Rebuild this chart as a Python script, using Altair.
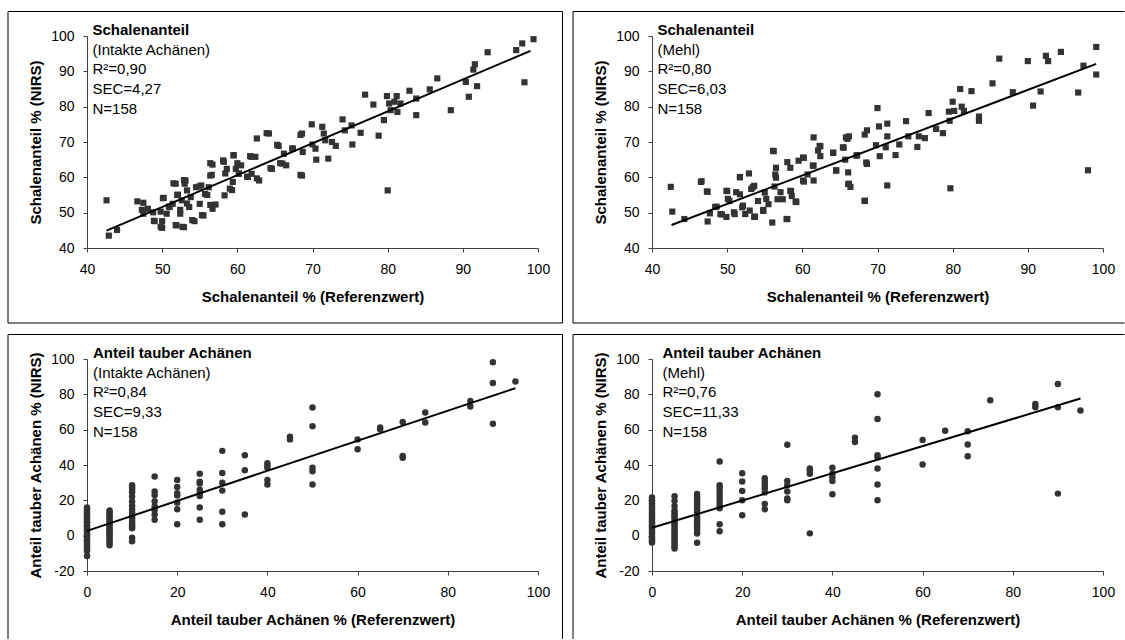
import altair as alt
import pandas as pd

FONT = "Liberation Sans"
PT_COLOR = "#333333"
AX_COLOR = "#404040"

# ---------------- data: Schalenanteil, intakte Achänen (x = Referenz, y = NIRS)
tl_points = [
    (42.6, 53.5), (42.9, 43.5), (44.0, 45.1), (46.7, 53.2), (47.5, 52.8), (47.5, 49.7),
    (48.1, 51.1), (48.8, 50.1), (49.0, 47.6), (50.0, 45.7), (50.2, 54.2), (50.0, 47.6),
    (50.6, 49.7), (51.0, 51.6), (51.4, 52.5), (51.8, 58.2), (51.9, 46.4), (52.1, 55.1),
    (52.4, 49.7), (52.6, 53.5), (52.9, 45.9), (53.0, 58.2), (53.1, 59.1), (53.3, 56.3),
    (53.6, 51.6), (53.8, 54.4), (54.3, 47.6), (54.5, 57.2), (55.0, 52.5), (55.2, 57.7),
    (55.5, 49.2), (55.7, 55.3), (56.2, 57.2), (56.4, 60.5), (56.7, 63.6), (56.7, 51.1),
    (57.1, 52.3), (58.1, 64.8), (58.3, 54.9), (58.6, 62.4), (59.0, 56.8), (59.4, 58.7),
    (59.5, 66.2), (59.8, 62.4), (60.2, 61.0), (60.5, 63.4), (61.4, 60.1), (61.9, 65.8),
    (62.4, 65.8), (62.6, 71.0), (61.9, 61.0), (62.9, 59.1), (64.2, 72.4), (64.6, 62.4),
    (65.5, 68.9), (66.0, 63.9), (66.2, 66.7), (66.5, 63.4), (67.4, 68.1), (68.6, 72.4),
    (68.6, 60.5), (68.7, 67.2), (69.9, 75.0), (70.0, 69.3), (70.4, 68.1), (70.5, 65.0),
    (71.3, 74.3), (71.5, 72.4), (71.7, 70.5), (72.1, 65.3), (72.6, 70.0), (73.1, 68.9),
    (74.0, 76.4), (74.3, 73.3), (75.2, 74.7), (75.3, 69.3), (76.4, 72.6), (77.0, 83.4),
    (78.1, 80.6), (78.8, 71.8), (79.5, 76.2), (79.9, 83.0), (80.0, 56.3), (80.2, 80.9),
    (80.4, 79.0), (80.9, 81.4), (81.2, 83.0), (81.3, 78.5), (81.7, 80.9), (82.9, 84.5),
    (83.8, 82.3), (83.8, 77.6), (85.6, 84.9), (86.6, 88.0), (88.4, 79.0), (90.4, 87.0),
    (90.8, 82.8), (91.4, 90.5), (91.6, 92.0), (91.9, 85.8), (93.3, 95.4), (97.1, 96.0),
    (97.9, 97.9), (98.2, 86.9), (99.4, 99.1),
    (47.3, 50.8), (48.9, 47.7), (49.8, 46.0), (50.1, 54.1), (49.8, 50.3), (50.9, 51.7),
    (51.5, 58.3), (51.8, 46.5), (52.7, 46.0), (52.0, 55.0), (52.9, 59.2), (53.3, 52.6),
    (52.4, 50.8), (54.0, 47.9), (54.9, 57.4), (55.3, 49.3), (56.0, 55.0), (56.4, 64.0),
    (56.6, 60.7), (56.4, 52.2), (58.2, 64.4), (58.4, 61.1), (59.3, 56.4), (59.5, 66.3),
    (60.0, 64.0), (60.2, 61.1), (61.3, 60.2), (61.7, 66.0), (62.6, 59.7), (63.9, 72.5),
    (64.4, 62.6), (65.3, 69.2), (65.7, 64.0), (67.3, 68.2), (68.4, 72.0), (68.4, 60.7),
]
tl_line_x = [42.6, 99.0]
tl_line_y = [44.9, 95.8]

# ---------------- data: Schalenanteil, Mehl
tr_points = [
    (42.5, 57.3), (42.7, 50.3), (44.3, 48.2), (46.5, 58.7), (47.4, 55.9), (47.4, 47.5),
    (47.7, 49.8), (48.4, 51.6), (49.1, 49.6), (50.0, 56.1), (49.9, 48.8), (50.3, 53.3),
    (51.0, 49.6), (51.7, 60.1), (51.7, 55.2), (52.0, 51.5), (52.4, 49.6), (52.9, 61.1),
    (53.2, 56.7), (53.6, 48.8), (53.6, 57.6), (54.1, 53.3), (54.8, 50.5), (55.0, 55.7),
    (55.5, 52.4), (56.0, 47.2), (56.2, 67.4), (56.5, 62.7), (56.5, 59.9), (56.7, 53.8),
    (57.4, 53.8), (57.9, 48.2), (58.0, 64.3), (58.4, 62.7), (58.5, 56.1), (58.6, 54.7),
    (59.2, 53.0), (59.5, 64.7), (60.2, 58.8), (60.2, 65.5), (60.7, 60.8), (61.5, 71.3),
    (61.5, 63.3), (61.5, 59.1), (62.1, 67.6), (62.4, 68.8), (62.4, 66.0), (64.1, 66.9),
    (64.5, 61.9), (65.5, 68.4), (65.7, 65.0), (66.0, 70.9), (66.2, 71.6), (66.1, 61.4),
    (66.2, 58.2), (66.4, 57.3), (67.3, 66.3), (68.3, 72.1), (68.6, 73.3), (68.6, 63.8),
    (68.3, 53.3), (70.0, 79.6), (69.8, 69.1), (70.2, 74.4), (70.3, 66.0), (71.1, 68.5),
    (71.3, 75.2), (71.3, 71.6), (71.3, 57.7), (72.4, 66.3), (72.9, 69.3), (73.8, 75.9),
    (74.1, 71.6), (75.3, 68.6), (75.5, 71.6), (76.3, 71.1), (76.8, 78.2), (77.8, 73.7),
    (78.7, 72.5), (79.5, 78.6), (79.6, 76.0), (79.7, 56.9), (80.0, 81.4), (80.2, 78.8),
    (81.0, 85.0), (81.2, 80.0), (81.5, 78.8), (82.5, 84.4), (83.5, 77.2), (83.5, 76.0),
    (85.3, 86.6), (86.2, 93.6), (88.0, 84.1), (90.0, 92.9), (90.7, 80.3), (91.7, 84.3),
    (92.4, 94.4), (92.7, 92.9), (94.4, 95.5), (96.7, 84.0), (97.4, 91.6), (98.0, 62.0),
    (99.1, 96.9), (99.1, 89.1),
    (46.6, 58.9), (47.3, 56.0), (48.6, 51.7), (49.3, 49.5), (49.9, 56.2), (50.1, 53.9),
    (50.9, 50.1), (51.7, 60.0), (51.2, 55.8), (52.1, 52.0), (53.4, 57.2), (53.0, 50.6),
    (53.7, 48.9), (54.8, 50.8), (55.2, 53.9), (56.1, 67.5), (56.4, 60.8), (56.3, 57.4),
    (57.1, 55.8), (58.0, 48.2), (58.4, 56.2), (59.1, 53.2), (60.1, 65.6), (60.1, 59.1),
    (61.4, 63.3), (62.3, 68.9), (64.1, 67.0), (64.5, 62.0), (65.4, 68.5), (65.8, 71.3),
    (66.1, 58.1), (67.2, 66.1), (68.5, 64.2), (68.3, 53.4),
]
tr_line_x = [42.6, 99.1]
tr_line_y = [46.5, 92.1]

# ---------------- data: Anteil tauber Achänen, intakte Achänen (columns at reference values)
bl_columns = {
    0: [-11.5, -8.6, -7.2, -6.0, -5.1, -3.8, -2.9, -2.0, -0.8, 0.3, 1.1, 2.4, 3.0, 4.2, 5.5,
        6.1, 7.4, 8.0, 9.3, 10.2, 11.0, 12.6, 13.5, 14.8, 15.9],
    5: [-5.4, -4.1, -3.0, -1.8, -0.6, 0.8, 1.9, 3.1, 4.0, 5.2, 6.3, 7.5, 8.8, 9.7, 11.0, 12.2,
        13.4, 14.3],
    10: [28.5, 27.2, 25.8, 24.6, 22.1, 19.3, 17.0, 14.8, 13.1, 11.4, 10.2, 8.9, 7.6, 6.3, 5.4,
         4.2, -1.2, -3.2],
    15: [33.5, 25.0, 23.0, 19.5, 16.5, 14.5, 12.0, 9.0],
    20: [31.5, 27.5, 24.0, 22.8, 18.7, 15.0, 6.5],
    25: [35.0, 30.5, 29.5, 26.0, 24.0, 22.5, 16.0, 9.0],
    30: [48.0, 35.5, 30.0, 25.5, 13.5, 6.5],
    35: [45.5, 37.0, 12.0],
    40: [41.0, 39.5, 38.5, 31.5, 29.0],
    45: [56.0, 54.5],
    50: [72.5, 62.0, 38.5, 36.5, 29.0],
    60: [54.5, 48.9],
    65: [61.2, 60.2],
    70: [64.4, 45.1, 44.1],
    75: [69.7, 64.0],
    85: [76.3, 73.1],
    90: [98.1, 86.4, 63.3],
    95: [87.3],
}
bl_line_x = [0, 95]
bl_line_y = [2.7, 83.5]

# ---------------- data: Anteil tauber Achänen, Mehl
br_columns = {
    0: [-3.9, -2.8, -1.5, -0.4, 0.9, 2.2, 3.4, 4.6, 5.8, 6.9, 8.2, 9.5, 10.7, 11.8, 13.1, 14.5,
        15.6, 17.0, 18.3, 19.9, 21.6],
    5: [-7.2, -6.0, -4.7, -3.4, -2.1, -1.0, 0.4, 1.7, 2.9, 4.1, 5.5, 6.6, 7.9, 9.0, 10.4, 11.6,
        12.9, 14.3, 16.8, 19.8, 22.3],
    10: [23.6, 22.0, 20.4, 18.9, 17.5, 16.0, 14.6, 13.2, 11.8, 10.1, 8.7, 7.4, 5.9, 4.5, 2.8,
         1.2, -4.0],
    15: [42.0, 28.5, 27.0, 25.0, 23.0, 21.0, 19.0, 17.0, 15.5, 6.5, 2.5],
    20: [35.3, 30.6, 25.3, 20.0, 11.6],
    25: [32.5, 31.0, 29.5, 28.0, 26.5, 24.5, 18.0, 15.0],
    30: [51.5, 31.0, 28.5, 25.0, 21.0, 20.0],
    35: [38.0, 37.0, 35.0, 1.3],
    40: [38.5, 35.0, 33.0, 31.0, 23.5],
    45: [55.5, 53.0],
    50: [80.0, 66.0, 45.5, 44.5, 38.0, 29.0, 20.0],
    60: [54.1, 40.3],
    65: [59.4],
    70: [59.1, 51.6, 45.0],
    75: [76.7],
    85: [74.5, 72.7],
    90: [85.9, 72.7, 23.8],
    95: [70.9],
}
br_line_x = [0, 95]
br_line_y = [4.5, 77.6]

# ---------------- texts
tl_text = ["Schalenanteil", "(Intakte Achänen)", "R²=0,90", "SEC=4,27", "N=158"]
tr_text = ["Schalenanteil", "(Mehl)", "R²=0,80", "SEC=6,03", "N=158"]
bl_text = ["Anteil tauber Achänen", "(Intakte Achänen)", "R²=0,84", "SEC=9,33", "N=158"]
br_text = ["Anteil tauber Achänen", "(Mehl)", "R²=0,76", "SEC=11,33", "N=158"]

W, H = 451, 212


def pts_df(points):
    return pd.DataFrame({"x": [p[0] for p in points], "y": [p[1] for p in points]})


def cols_df(columns):
    xs, ys = [], []
    for k, vals in columns.items():
        for v in vals:
            xs.append(k)
            ys.append(v)
    return pd.DataFrame({"x": xs, "y": ys})


def panel(df, lx, ly, square, xdom, ydom, step, xtitle, ytitle, texts, tdx, borders):
    xs = alt.Scale(domain=xdom, nice=False, zero=False)
    ys = alt.Scale(domain=ydom, nice=False, zero=False)
    xax = alt.Axis(values=list(range(xdom[0], xdom[1] + 1, step)), title=xtitle, grid=False,
                   domainColor=AX_COLOR, tickColor=AX_COLOR, tickSize=4, labelPadding=10,
                   titlePadding=13, labelFont=FONT, labelFontSize=14, labelColor="black",
                   labelFlush=False, labelOverlap=False, titleFont=FONT, titleFontSize=15,
                   titleFontWeight="bold", titleColor="black")
    yax = alt.Axis(values=list(range(ydom[0], ydom[1] + 1, step)), title=ytitle, grid=False,
                   domainColor=AX_COLOR, tickColor=AX_COLOR, tickSize=4, labelPadding=9,
                   titlePadding=7, labelFont=FONT, labelFontSize=14, labelColor="black",
                   labelFlush=False, labelOverlap=False, titleFont=FONT, titleFontSize=15,
                   titleFontWeight="bold", titleColor="black",
                   labelExpr="datum.value < 0 ? '-' + abs(datum.value) : '' + datum.value")
    enc = dict(x=alt.X("x:Q", scale=xs, axis=xax), y=alt.Y("y:Q", scale=ys, axis=yax))
    if square:
        pts = alt.Chart(df).mark_point(shape="square", filled=True, size=38, color=PT_COLOR,
                                       opacity=1).encode(**enc)
    else:
        pts = alt.Chart(df).mark_circle(size=42, color=PT_COLOR, opacity=1).encode(**enc)
    line = alt.Chart(pd.DataFrame({"x": lx, "y": ly})).mark_line(
        color="black", strokeWidth=2).encode(**enc)
    one = pd.DataFrame({"a": [0]})
    t1 = alt.Chart(one).mark_text(text=texts[0], font=FONT, fontSize=15, fontWeight="bold",
                                  align="left", baseline="alphabetic", color="black").encode(
        x=alt.value(tdx), y=alt.value(-1))
    t2 = alt.Chart(one).mark_text(text=texts[1:], font=FONT, fontSize=15, lineHeight=19.7,
                                  align="left", baseline="alphabetic", color="black").encode(
        x=alt.value(tdx), y=alt.value(18.7))
    layers = [pts, line, t1, t2]
    for b in borders:
        if b[0] == "v":
            r = alt.Chart(one).mark_rule(color="black", strokeWidth=1).encode(
                x=alt.value(b[1]), y=alt.value(b[2]), y2=alt.value(b[3]))
        else:
            r = alt.Chart(one).mark_rule(color="black", strokeWidth=1).encode(
                y=alt.value(b[1]), x=alt.value(b[2]), x2=alt.value(b[3]))
        layers.append(r)
    return alt.layer(*layers).properties(width=W, height=H)


L, R, T, B = -79, 475.5, -24.5, 287
R_CUT, B_CUT = 472.5, 280

p1 = panel(pts_df(tl_points), tl_line_x, tl_line_y, True, [40, 100], [40, 100], 10,
           "Schalenanteil % (Referenzwert)", "Schalenanteil % (NIRS)", tl_text, 5.5,
           [("v", L, T, B), ("v", R, T, B), ("h", T, L, R), ("h", B, L, R)])
p2 = panel(pts_df(tr_points), tr_line_x, tr_line_y, True, [40, 100], [40, 100], 10,
           "Schalenanteil % (Referenzwert)", "Schalenanteil % (NIRS)", tr_text, 5.5,
           [("v", L, T, B), ("h", T, L, R_CUT), ("h", B, L, R_CUT)])
p3 = panel(cols_df(bl_columns), bl_line_x, bl_line_y, False, [0, 100], [-20, 100], 20,
           "Anteil tauber Achänen % (Referenzwert)", "Anteil tauber Achänen %  (NIRS)", bl_text,
           6, [("v", L, T, B_CUT), ("v", R, T, B_CUT), ("h", T, L, R)])
p4 = panel(cols_df(br_columns), br_line_x, br_line_y, False, [0, 100], [-20, 100], 20,
           "Anteil tauber Achänen % (Referenzwert)", "Anteil tauber Achänen %  (NIRS)", br_text,
           10.5, [("v", L, T, B_CUT), ("h", T, L, R_CUT)])

chart = alt.concat(p1, p2, p3, p4, columns=2, spacing={"row": 111, "column": 114},
                   bounds="flush").properties(
    padding={"left": 7, "top": 11, "right": 0, "bottom": 0}, background="white"
).configure_view(strokeOpacity=0)

chart.save("out.html", embed_options={"renderer": "svg", "actions": False})
